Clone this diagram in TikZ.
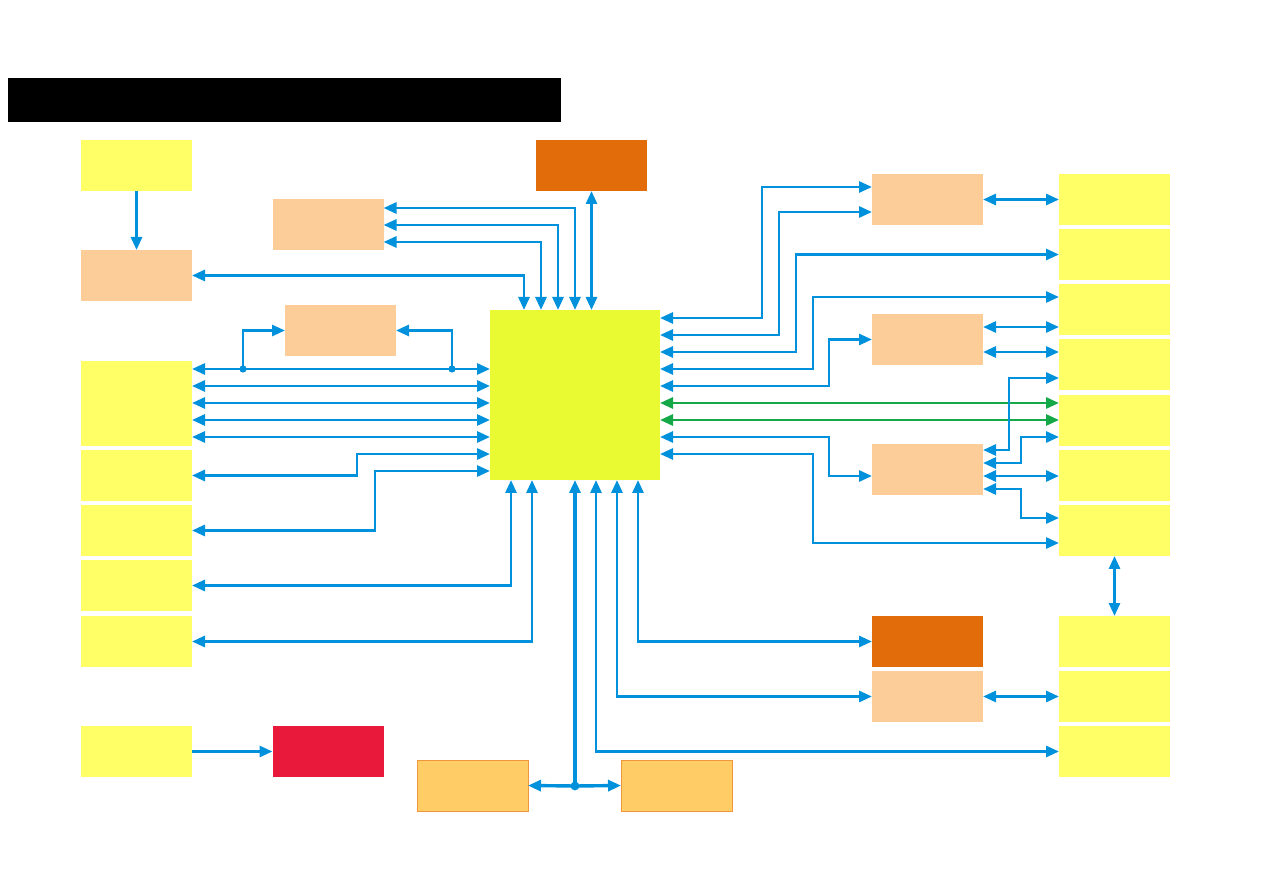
\documentclass[tikz,border=0pt]{standalone}
\definecolor{WireBlue}{RGB}{0,145,220}
\definecolor{WireGreen}{RGB}{20,168,72}
\definecolor{PadYellow}{RGB}{255,255,102}
\definecolor{PadPeach}{RGB}{252,204,153}
\definecolor{PadOrange}{RGB}{227,108,10}
\definecolor{CoreLime}{RGB}{234,250,50}
\definecolor{PadRed}{RGB}{232,25,58}
\definecolor{PadGold}{RGB}{255,204,102}
\definecolor{GoldEdge}{RGB}{240,150,60}
\usepackage{tikz}
\usetikzlibrary{arrows.meta, positioning, calc}

\begin{document}
\begin{tikzpicture}[x=0.5pt,y=-0.5pt,
	blk/.style={minimum width=55.5pt,minimum height=25.5pt,inner sep=0pt,outer sep=0pt},
	ybox/.style={blk,fill=PadYellow},
	pbox/.style={blk,fill=PadPeach},
	obox/.style={blk,fill=PadOrange},
	rbox/.style={blk,fill=PadRed},
	gbox/.style={blk,fill=PadGold,draw=GoldEdge,line width=0.5pt},
	wire/.style={draw=WireBlue,line width=1.4pt},
	gwire/.style={draw=WireGreen,line width=1.4pt},
	>={Triangle[length=6.5pt,width=5.5pt]}]
\fill[white] (0,0) rectangle (1263,892);
\useasboundingbox (0,0) rectangle (1263,892);
% title bar
\node[fill=black,minimum width=276.5pt,minimum height=22pt,inner sep=0pt] (title) at (284.5,100) {};
% core
\node[fill=CoreLime,minimum width=85pt,minimum height=85pt,inner sep=0pt,outer sep=0pt] (cpu) at (575,395) {};
% left side
\node[ybox] (y1) at (136.5,165.5) {};
\node[pbox] (o1) at (136.5,275.5) {};
\node[pbox] (p2) at (328,224.5) {};
\node[pbox] (p3) at (340.5,330.5) {};
\node[obox] (t1) at (591.5,165.5) {};
\node[ybox,minimum height=42.5pt] (l1) at (136.5,403.5) {};
\node[ybox] (l2) at (136.5,475.5) {};
\node[ybox] (l3) at (136.5,530.5) {};
\node[ybox] (l4) at (136.5,585.5) {};
\node[ybox] (l5) at (136.5,641.5) {};
\node[ybox] (bl) at (136.5,751.5) {};
\node[rbox] (red) at (328,751.5) {};
% bottom
\node[gbox] (ba) at (472.5,785.5) {};
\node[gbox] (bb) at (676.5,785.5) {};
% right side
\node[pbox] (r1) at (927.5,199.5) {};
\node[pbox] (r2) at (927.5,339.5) {};
\node[pbox] (r3) at (927.5,469.5) {};
\node[obox] (r4) at (927.5,641.5) {};
\node[pbox] (r5) at (927.5,696.5) {};
\foreach \n/\y in {1/199.5,2/254.5,3/309.5,4/364.5,5/420.5,6/475.5,7/530.5,8/641.5,9/696.5,10/751.5}
	\node[ybox] (k\n) at (1114.5,\y) {};

% top side of core
\draw[wire,->] (y1) -- (o1);
\draw[wire,<->] (o1.east) -| (cpu.north -| 524,0);
\draw[wire,<->] (p2.east |- 0,208) -| (cpu.north -| 575,0);
\draw[wire,<->] (p2.east |- 0,225) -| (cpu.north -| 558,0);
\draw[wire,<->] (p2.east |- 0,242) -| (cpu.north -| 541,0);
\draw[wire,<->] (t1.south) -- (t1.south |- cpu.north);

% left side of core
\foreach \y in {369,386,403,420,437}
	\draw[wire,<->] (l1.east |- 0,\y) -- (cpu.west |- 0,\y);
\coordinate (ja) at (243,369);
\coordinate (jb) at (452,369);
\draw[wire,->] (ja) |- (p3.west);
\draw[wire,->] (jb) |- (p3.east);
\fill[WireBlue] (ja) circle (1.8pt) (jb) circle (1.8pt);
\draw[wire,<->] (l2.east) -| (357,462) |- (cpu.west |- 0,454);
\draw[wire,<->] (l3.east) -| (375,500) |- (cpu.west |- 0,471);
\draw[wire,<->] (l4.east) -| (cpu.south -| 511,0);
\draw[wire,<->] (l5.east) -| (cpu.south -| 532,0);
\draw[wire,->] (bl) -- (red);

% bottom side of core
\coordinate (bus) at (575,786);
\draw[wire,line width=1.7pt,->] (bus) -- (cpu.south -| bus);
\draw[wire,line width=1.7pt,->] (bus) -- (ba.east);
\draw[wire,line width=1.7pt,->] (bus) -- (bb.west);
\fill[WireBlue] (bus) circle (2.2pt);
\draw[wire,<->] (cpu.south -| 596,0) |- (k10.west);
\draw[wire,<->] (cpu.south -| 617,0) |- (r5.west);
\draw[wire,<->] (cpu.south -| 638,0) |- (r4.west);

% right side of core
\draw[wire,<->] (cpu.east |- 0,318) -| (762,250) |- (r1.west |- 0,187);
\draw[wire,<->] (cpu.east |- 0,335) -| (779,270) |- (r1.west |- 0,212);
\draw[wire,<->] (cpu.east |- 0,352) -| (796,300) |- (k2.west);
\draw[wire,<->] (cpu.east |- 0,369) -| (813,330) |- (k3.west |- 0,297);
\draw[wire,<->] (cpu.east |- 0,386) -| (829,360) |- (r2.west);
\draw[gwire,<->] (cpu.east |- 0,403) -- (k5.west |- 0,403);
\draw[gwire,<->] (cpu.east |- 0,420) -- (k5.west |- 0,420);
\draw[wire,<->] (cpu.east |- 0,437) -| (829,460) |- (r3.west |- 0,476);
\draw[wire,<->] (cpu.east |- 0,454) -| (813,500) |- (k7.west |- 0,543);

% right column links
\draw[wire,<->] (r1) -- (k1);
\draw[wire,<->] (r2.east |- 0,327) -- (k3.west |- 0,327);
\draw[wire,<->] (r2.east |- 0,352) -- (k4.west |- 0,352);
\draw[wire,<->] (r3.east |- 0,450) -| (1009,420) |- (k4.west |- 0,378);
\draw[wire,<->] (r3.east |- 0,463) -| (1021,450) |- (k5.west |- 0,437);
\draw[wire,<->] (r3.east |- 0,476) -- (k6.west |- 0,476);
\draw[wire,<->] (r3.east |- 0,489) -| (1021,500) |- (k7.west |- 0,518);
\draw[wire,<->] (k7) -- (k8);
\draw[wire,<->] (r5) -- (k9);
\end{tikzpicture}
\end{document}
